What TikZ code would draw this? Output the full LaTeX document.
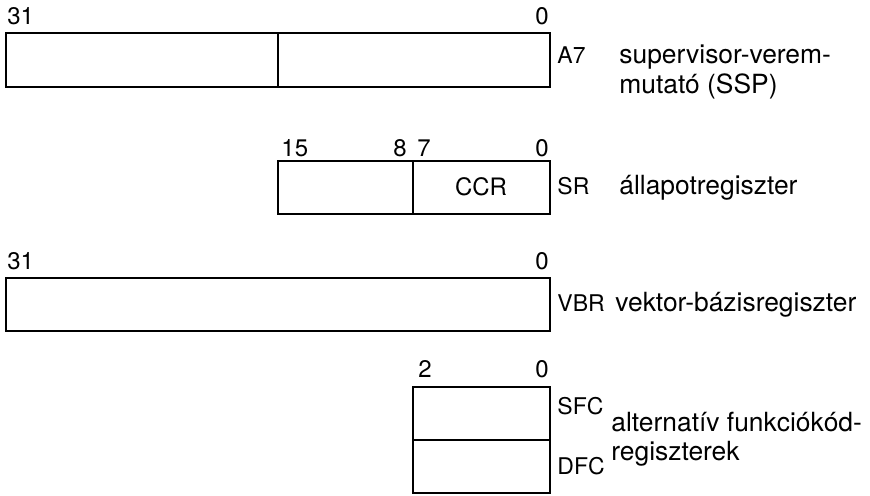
\documentclass[tikz,border=0pt]{standalone}
\usepackage{fontspec}
\setmainfont{TeX Gyre Heros}
\begin{document}
\begin{tikzpicture}[x=0.5pt,y=-0.5pt,
  reg/.style={line width=1.1pt},
  bitw/.style={font=\fontsize{12}{14}\selectfont, inner sep=0pt, anchor=base west},
  bite/.style={font=\fontsize{12}{14}\selectfont, inner sep=0pt, anchor=base east},
  rname/.style={font=\fontsize{11.5}{14}\selectfont, inner sep=0pt, anchor=base west},
  desc/.style={font=\fontsize{13.2}{15}\selectfont, inner sep=0pt, anchor=base west}]
\useasboundingbox (0,0) rectangle (870,495);
% A7
\draw[reg] (6,33) rectangle (550,87);
\draw[reg] (278,33) -- (278,87);
\node[bitw] (a31) at (7,24) {31};
\node[bite] (a0) at (549,24) {0};
\node[rname] (a7) at (557,63) {A7};
\node[desc] (a7d1) at (619,63) {supervisor-verem-};
\node[desc] (a7d2) at (619,93) {mutató (SSP)};
% SR
\draw[reg] (278,161) rectangle (550,214);
\draw[reg] (413,161) -- (413,214);
\node[bitw] (s15) at (281,156) {15};
\node[bite] (s8) at (407,156) {8};
\node[bitw] (s7) at (417,156) {7};
\node[bite] (s0) at (549,156) {0};
\node[font=\fontsize{12}{14}\selectfont, inner sep=0pt, anchor=base] (ccr) at (481,195) {CCR};
\node[rname] (sr) at (557,194) {SR};
\node[desc] (srd) at (619,194) {állapotregiszter};
% VBR
\draw[reg] (6,278) rectangle (550,331);
\node[bitw] (v31) at (7,269) {31};
\node[bite] (v0) at (549,269) {0};
\node[rname] (vbr) at (557,311) {VBR};
\node[desc] (vbrd) at (615,311) {vektor-bázisregiszter};
% SFC / DFC
\draw[reg] (413,387) rectangle (550,493);
\draw[reg] (413,440) -- (550,440);
\node[bitw] (f2) at (418,377) {2};
\node[bite] (f0) at (549,377) {0};
\node[rname] (sfc) at (557,414) {SFC};
\node[rname] (dfc) at (557,474) {DFC};
\node[desc] (fd1) at (611,431) {alternatív funkciókód-};
\node[desc] (fd2) at (611,460) {regiszterek};
\end{tikzpicture}
\end{document}
